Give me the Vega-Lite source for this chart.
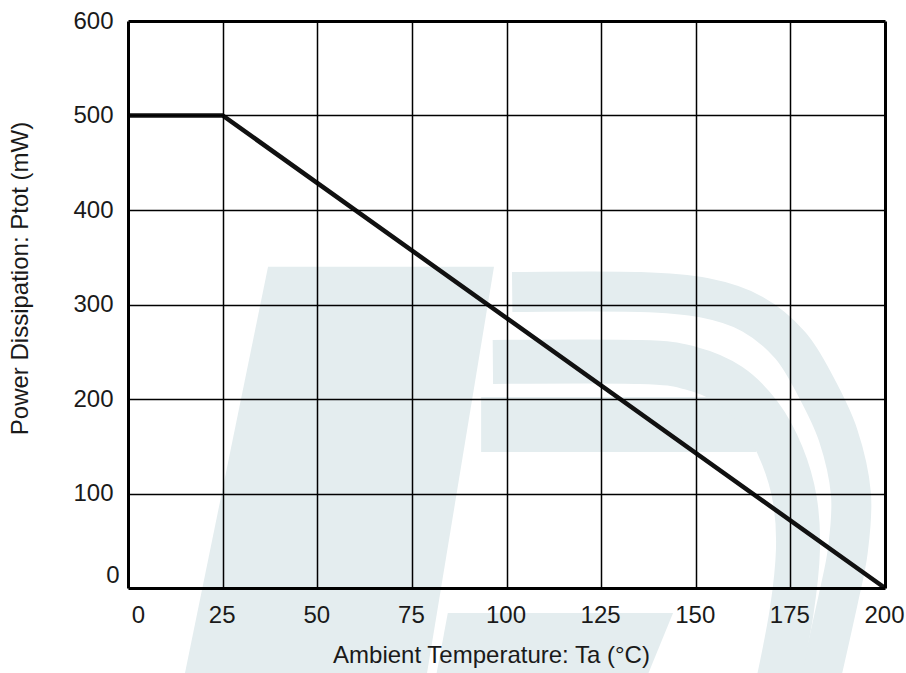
{
  "$schema": "https://vega.github.io/schema/vega-lite/v6.json",
  "width": 757,
  "height": 567,
  "autosize": {"type": "none"},
  "padding": {"left": 128, "top": 21, "right": 21, "bottom": 85},
  "background": "white",
  "config": {
    "view": {"stroke": null},
    "font": "Liberation Sans"
  },
  "datasets": {
    "curve": [
      {"x": 0, "y": 500},
      {"x": 25, "y": 500},
      {"x": 200, "y": 0}
    ],
    "slantBar": [
      {"y": 340, "x": 37, "x2": 96.7},
      {"y": -95, "x": 14.8, "x2": 78.8}
    ],
    "bottomBand": [
      {"y": -26.5, "x": 84.5, "x2": 144},
      {"y": -95, "x": 81.3, "x2": 137}
    ],
    "midBar": [
      {"x": 93.3, "x2": 166, "y": 144, "y2": 202}
    ],
    "outerArc": [
      {"i": 1, "x": 101.5, "y": 313.2},
      {"i": 2, "x": 135.3, "y": 313.2},
      {"i": 3, "x": 152.4, "y": 306.9},
      {"i": 4, "x": 164.9, "y": 290.0},
      {"i": 5, "x": 174.9, "y": 257.1},
      {"i": 6, "x": 181.5, "y": 214.8},
      {"i": 7, "x": 187.6, "y": 161.9},
      {"i": 8, "x": 191.0, "y": 99.5},
      {"i": 9, "x": 190.2, "y": 40.2},
      {"i": 10, "x": 187.6, "y": -12.7},
      {"i": 11, "x": 183.0, "y": -95}
    ],
    "innerArc": [
      {"i": 1, "x": 96.4, "y": 239.2},
      {"i": 2, "x": 135.3, "y": 239.2},
      {"i": 3, "x": 148.5, "y": 232.8},
      {"i": 4, "x": 159.0, "y": 214.8},
      {"i": 5, "x": 167.0, "y": 183.1},
      {"i": 6, "x": 172.8, "y": 140.7},
      {"i": 7, "x": 176.2, "y": 93.1},
      {"i": 8, "x": 177.0, "y": 40.2},
      {"i": 9, "x": 175.4, "y": -23.3},
      {"i": 10, "x": 172.0, "y": -95}
    ]
  },
  "encoding": {
    "x": {
      "field": "x",
      "type": "quantitative",
      "scale": {"domain": [0, 200], "nice": false},
      "axis": {
        "values": [0, 25, 50, 75, 100, 125, 150, 175, 200],
        "title": "Ambient Temperature: Ta (°C)",
        "zindex": 1,
        "domain": false,
        "ticks": false,
        "tickSize": 0,
        "grid": true,
        "gridColor": "#000000",
        "gridWidth": {"condition": {"test": "datum.value == 0 || datum.value == 200", "value": 3}, "value": 1.5},
        "gridOpacity": 1,
        "labelFont": "Liberation Sans",
        "labelFontSize": 24,
        "labelColor": "#1a1a1a",
        "labelBaseline": "alphabetic",
        "labelPadding": 34,
        "labelFlush": false,
        "labelOffset": {"condition": {"test": "datum.value == 0", "value": 10}, "value": -1},
        "titleFont": "Liberation Sans",
        "titleFontSize": 24,
        "titleFontWeight": "normal",
        "titleColor": "#1a1a1a",
        "titleBaseline": "alphabetic",
        "titleX": 363,
        "titleY": 74
      }
    },
    "y": {
      "field": "y",
      "type": "quantitative",
      "scale": {"domain": [0, 600], "nice": false},
      "axis": {
        "values": [0, 100, 200, 300, 400, 500, 600],
        "title": "Power Dissipation: Ptot (mW)",
        "zindex": 1,
        "domain": false,
        "ticks": false,
        "tickSize": 0,
        "grid": true,
        "gridColor": "#000000",
        "gridWidth": {"condition": {"test": "datum.value == 0 || datum.value == 600", "value": 3}, "value": 1.5},
        "gridOpacity": 1,
        "labelFont": "Liberation Sans",
        "labelFontSize": 24,
        "labelColor": "#1a1a1a",
        "labelBaseline": "middle",
        "labelFlush": false,
        "labelPadding": {"condition": {"test": "datum.value == 0", "value": 9}, "value": 15},
        "labelOffset": {"condition": {"test": "datum.value == 0", "value": -13}, "value": 0},
        "titleFont": "Liberation Sans",
        "titleFontSize": 24,
        "titleFontWeight": "normal",
        "titleColor": "#1a1a1a",
        "titleBaseline": "alphabetic",
        "titleX": -101,
        "titleY": 257
      }
    }
  },
  "layer": [
    {
      "data": {"name": "slantBar"},
      "mark": {"type": "area", "orient": "horizontal", "color": "#e4edef", "opacity": 1},
      "encoding": {"x2": {"field": "x2"}}
    },
    {
      "data": {"name": "bottomBand"},
      "mark": {"type": "area", "orient": "horizontal", "color": "#e4edef", "opacity": 1},
      "encoding": {"x2": {"field": "x2"}}
    },
    {
      "data": {"name": "midBar"},
      "mark": {"type": "rect", "color": "#e4edef", "opacity": 1},
      "encoding": {"x2": {"field": "x2"}, "y2": {"field": "y2"}}
    },
    {
      "data": {"name": "outerArc"},
      "mark": {"type": "line", "color": "#e4edef", "strokeWidth": 40, "strokeCap": "butt", "interpolate": "cardinal"},
      "encoding": {"order": {"field": "i", "type": "quantitative"}}
    },
    {
      "data": {"name": "innerArc"},
      "mark": {"type": "line", "color": "#e4edef", "strokeWidth": 44, "strokeCap": "butt", "interpolate": "cardinal"},
      "encoding": {"order": {"field": "i", "type": "quantitative"}}
    },
    {
      "data": {"name": "curve"},
      "mark": {"type": "line", "color": "#111111", "strokeWidth": 4.5, "strokeJoin": "miter"},
      "encoding": {}
    }
  ]
}
